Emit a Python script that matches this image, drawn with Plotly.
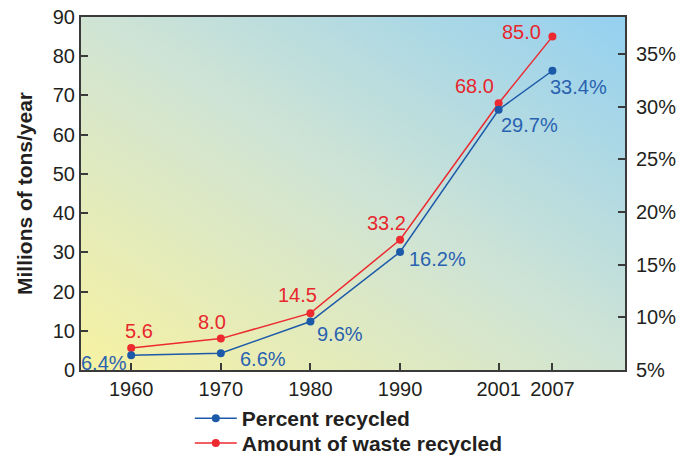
import base64
import plotly.graph_objects as go

years = [1960, 1970, 1980, 1990, 2001, 2007]
amount = [5.6, 8.0, 14.5, 33.2, 68.0, 85.0]
percent = [6.4, 6.6, 9.6, 16.2, 29.7, 33.4]
amount_labels = ["5.6", "8.0", "14.5", "33.2", "68.0", "85.0"]
percent_labels = ["6.4%", "6.6%", "9.6%", "16.2%", "29.7%", "33.4%"]
left_ticks = [0, 10, 20, 30, 40, 50, 60, 70, 80, 90]
right_ticks = [5, 10, 15, 20, 25, 30, 35]
right_tick_text = ["5%", "10%", "15%", "20%", "25%", "30%", "35%"]

# label offsets (pixels) for annotations
amount_off = [(8, 17), (-9, 17), (-13, 18), (-14, 17), (-24, 17), (-31, 5)]
percent_off = [(-27, -8), (42, -6), (30, -12), (37, -7), (31, -15), (26, -16)]

BLUE = "#1c5aa9"
RED = "#ec2a30"
BLUE_T = "#2962b0"
RED_T = "#e8262d"
FONT = "Liberation Sans, Arial, sans-serif"

svg = ('<svg xmlns="http://www.w3.org/2000/svg" width="100" height="100" preserveAspectRatio="none">'
       '<defs><linearGradient id="g" x1="0" y1="1" x2="1" y2="0">'
       '<stop offset="0" stop-color="#f7f2a2"/>'
       '<stop offset="0.5" stop-color="#d0e4d4"/>'
       '<stop offset="1" stop-color="#94d0f0"/>'
       '</linearGradient></defs>'
       '<rect width="100" height="100" fill="url(#g)"/></svg>')
src = "data:image/svg+xml;base64," + base64.b64encode(svg.encode()).decode()

fig = go.Figure()
fig.add_trace(go.Scatter(x=years, y=percent, yaxis="y2", mode="lines+markers",
                         name="<b>Percent recycled</b>", legend="legend",
                         line=dict(color=BLUE, width=1.5),
                         marker=dict(color=BLUE, size=8)))
fig.add_trace(go.Scatter(x=years, y=amount, mode="lines+markers",
                         name="<b>Amount of waste recycled</b>", legend="legend2",
                         line=dict(color=RED, width=1.5),
                         marker=dict(color=RED, size=8)))

for x, y, t, (dx, dy) in zip(years, amount, amount_labels, amount_off):
    fig.add_annotation(x=x, y=y, text=t, showarrow=False, xshift=dx, yshift=dy,
                       font=dict(color=RED_T, size=20, family=FONT))
for x, y, t, (dx, dy) in zip(years, percent, percent_labels, percent_off):
    fig.add_annotation(x=x, y=y, yref="y2", text=t, showarrow=False, xshift=dx, yshift=dy,
                       font=dict(color=BLUE_T, size=20, family=FONT))

axis_line = dict(showline=True, linecolor="#3a3a3a", linewidth=2, ticks="inside",
                 ticklen=7, tickcolor="#3a3a3a", tickwidth=1.5, showgrid=False,
                 zeroline=False, automargin=False, ticklabeloverflow="allow",
                 tickfont=dict(size=20, color="#231f20", family=FONT))

legend_style = dict(xanchor="left", yanchor="top", orientation="v",
                    font=dict(size=21, color="#231f20", family=FONT),
                    bgcolor="rgba(0,0,0,0)", itemwidth=42)

fig.update_layout(
    width=691, height=456,
    margin=dict(l=81, r=66, t=17, b=86, autoexpand=False),
    paper_bgcolor="white", plot_bgcolor="rgba(0,0,0,0)",
    font=dict(family=FONT, color="#231f20"),
    xaxis=dict(range=[1954.4, 2015.1], tickvals=years, ticktext=[str(y) for y in years],
               mirror=True, **axis_line),
    yaxis=dict(range=[0, 90], tickvals=left_ticks,
               title=dict(text="<b>Millions of tons/year</b>", font=dict(size=21, color="#231f20", family=FONT), standoff=14),
               **axis_line),
    yaxis2=dict(range=[5, 38.5], tickvals=right_ticks, ticktext=right_tick_text, overlaying="y",
                side="right", ticklabelstandoff=5, **axis_line),
    legend=dict(x=0.2, y=-0.0793, **legend_style),
    legend2=dict(x=0.2, y=-0.150, **legend_style),
    showlegend=True,
    images=[dict(source=src, xref="paper", yref="paper", x=0, y=1, sizex=1, sizey=1,
                 xanchor="left", yanchor="top", sizing="stretch", layer="below")],
)

fig.write_html("out.html", config={"displayModeBar": False},
               post_script="document.body.style.margin='0px';")
